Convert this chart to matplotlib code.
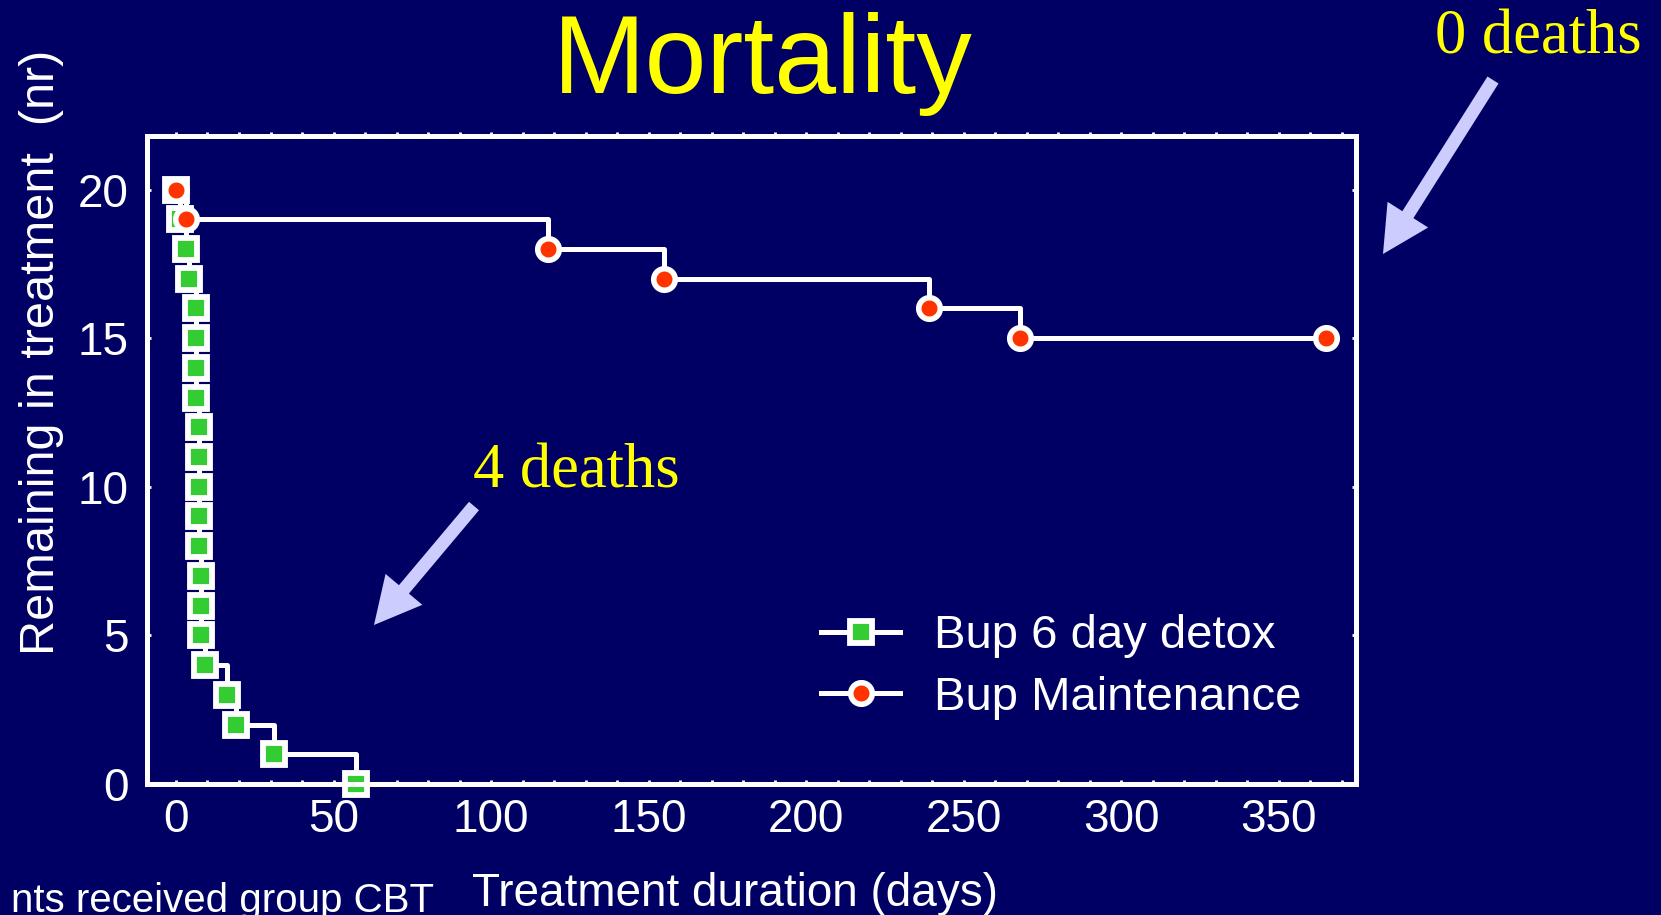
import matplotlib
matplotlib.use('Agg')
import matplotlib.pyplot as plt
from matplotlib.ticker import MultipleLocator, FixedLocator

# ---- data ----
detox_days = [0, 1.3, 3.1, 4.1, 6.2, 6.2, 6.2, 6.2, 7.2, 7.2, 7.2, 7.2, 7.2,
              8.0, 8.0, 8.0, 9.1, 16.1, 19.2, 31.1, 57.1]
detox_n = [20, 19, 18, 17, 16, 15, 14, 13, 12, 11, 10, 9, 8, 7, 6, 5, 4, 3, 2, 1, 0]
maint_days = [0, 3.1, 118, 155, 239, 268, 365]
maint_n = [20, 19, 18, 17, 16, 15, 15]
series_labels = ['Bup 6 day detox', 'Bup Maintenance']
x_ticks = [0, 50, 100, 150, 200, 250, 300, 350]
y_ticks = [0, 5, 10, 15, 20]

BG = '#000064'
WHITE = 'white'
YELLOW = '#FFFF00'
GREEN = '#33CC33'
RED = '#FF3300'
ARROW = '#CCCCFF'

plt.rcParams['font.family'] = ['Liberation Sans', 'DejaVu Sans']

W, H = 1661, 915
fig = plt.figure(figsize=(W / 100, H / 100), dpi=100, facecolor=BG)
ax = fig.add_axes([147 / W, 1 - 784 / H, (1356 - 147) / W, (784 - 136) / H])
ax.set_facecolor(BG)

lw = 3.6
l1, = ax.step(detox_days, detox_n, where='post', color=WHITE, lw=lw,
              marker='s', markersize=16, markerfacecolor=GREEN,
              markeredgecolor=WHITE, markeredgewidth=4.2, clip_on=False,
              label=series_labels[0], zorder=2)
l2, = ax.step(maint_days, maint_n, where='post', color=WHITE, lw=lw,
              marker='o', markersize=15.5, markerfacecolor=RED,
              markeredgecolor=WHITE, markeredgewidth=4.0, clip_on=False,
              label=series_labels[1], zorder=2.2)

ax.set_xlim(-9.2, 374.5)
ax.set_ylim(0, 21.8)

for s in ax.spines.values():
    s.set_color(WHITE)
    s.set_linewidth(3.6)
    s.set_zorder(3)

ax.xaxis.set_major_locator(FixedLocator(x_ticks))
ax.xaxis.set_minor_locator(MultipleLocator(10))
ax.yaxis.set_major_locator(FixedLocator(y_ticks))
ax.tick_params(axis='x', which='both', direction='in', length=3, width=2,
               color=WHITE, labelcolor=WHITE, labelsize=33, pad=10,
               top=False, bottom=True)
ax.tick_params(axis='y', which='both', direction='in', length=3, width=2,
               color=WHITE, labelcolor=WHITE, labelsize=33, pad=13,
               left=True, right=True)

top = ax.secondary_xaxis('top')
top.xaxis.set_major_locator(MultipleLocator(10))
top.tick_params(axis='x', direction='out', length=3, width=2, color=WHITE,
                labeltop=False)
top.spines['top'].set_color(WHITE)
top.spines['top'].set_linewidth(3.6)

leg = ax.legend(handles=[l1, l2], loc='center left',
                bbox_to_anchor=(821 / W, 1 - 667 / H),
                bbox_transform=fig.transFigure, frameon=False, fontsize=34,
                handlelength=1.68, handletextpad=0.72, labelspacing=0.36,
                borderpad=0, borderaxespad=0, numpoints=1)
for t in leg.get_texts():
    t.set_color(WHITE)

# texts
fig.text(763 / W, 1 - 93 / H, 'Mortality', color=YELLOW, fontsize=80,
         ha='center', va='baseline')
fig.text(1435 / W, 1 - 53 / H, '0 deaths', color=YELLOW, fontsize=45,
         ha='left', va='baseline', family=['Liberation Serif', 'DejaVu Serif'])
fig.text(473 / W, 1 - 487 / H, '4 deaths', color=YELLOW, fontsize=45,
         ha='left', va='baseline', family=['Liberation Serif', 'DejaVu Serif'])
fig.text(42 / W, 1 - 352 / H, 'Remaining in treatment  (nr)', color=WHITE,
         fontsize=35, rotation=90, ha='center', va='center')
fig.text(735 / W, 1 - 906 / H, 'Treatment duration (days)', color=WHITE,
         fontsize=33, ha='center', va='baseline')
fig.text(434 / W, 1 - 912 / H, 'nts received group CBT', color=WHITE,
         fontsize=29, ha='right', va='baseline')

# arrows (figure pixel coordinates)
astyle = 'simple,head_length=3.35,head_width=3.46,tail_width=0.94'
for tip, tail in [((1383, H - 254), (1493, H - 80)),
                  ((374, H - 625), (474, H - 506))]:
    ax.annotate('', xy=tip, xytext=tail, xycoords='figure pixels',
                textcoords='figure pixels',
                arrowprops=dict(arrowstyle=astyle, fc=ARROW, ec='none',
                                mutation_scale=10, shrinkA=0, shrinkB=0),
                annotation_clip=False)

fig.savefig('out.png', dpi=100, facecolor=BG)
